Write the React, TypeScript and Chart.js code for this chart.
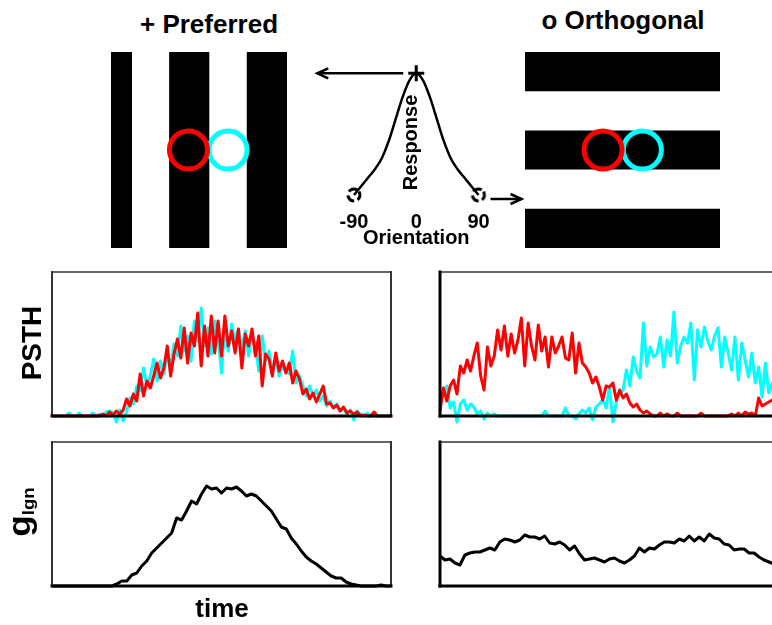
import React, { useEffect, useRef } from "react";
import { Chart, registerables } from "chart.js";

Chart.register(...registerables);

const FONT = "'Liberation Sans', Arial, Helvetica, sans-serif";
const RED = "#ff0000";
const CYAN = "#00ffff";
const INK = "#000000";
const THIN = "#333333";

// ---- stimulus gratings (extents in % of the stimulus patch) ----
const PATCH_MAX = 100;
const PREFERRED_STRIPES = [[0, 12], [33, 56], [77, 100]]; // vertical bars: x extents
const ORTHOGONAL_STRIPES = [[0, 20], [40, 60], [80, 100]]; // horizontal bars: y extents
// LGN receptive-field centres on each patch, [red, cyan]
const PREFERRED_RF_X = [44, 66.5];
const PREFERRED_RF_Y = [50, 50];
const ORTHOGONAL_RF_X = [40, 60.2];
const ORTHOGONAL_RF_Y = [50, 50];

// ---- orientation tuning curve ----
const ORIENTATION = [-90, -80, -70, -60, -50, -40, -30, -20, -10, 0, 10, 20, 30, 40, 50, 60, 70, 80, 90];
const RESPONSE = [0, 0.07, 0.14, 0.21, 0.3, 0.44, 0.62, 0.8, 0.94, 1, 0.94, 0.8, 0.62, 0.44, 0.3, 0.21, 0.14, 0.07, 0];
const ORIENTATION_TICKS = [-90, 0, 90];
const PREFERRED_ORI = [0];
const ORTHOGONAL_ORI = [-90, 90];

// ---- PSTHs (time bins 0..100) ----
const PSTH_MAX = 144;
const PSTH_PREF_RED = [
  0, 0, 0, 0, 0, 0, 0, 0, 0, 0,
  0, 0, 0, 0, 0, 2, 0, 4, 1, 5,
  2, 6, 17, 10, 22, 15, 42, 20, 35, 28,
  40, 53, 38, 48, 70, 40, 62, 77, 58, 88,
  53, 83, 70, 103, 50, 90, 60, 100, 63, 95,
  60, 100, 70, 85, 63, 87, 48, 82, 70, 87,
  60, 80, 30, 62, 57, 40, 63, 45, 55, 43,
  53, 33, 45, 37, 22, 27, 17, 23, 14, 22,
  30, 12, 13, 8, 11, 5, 9, 3, 5, 2,
  4, 0, 1, 0, 0, 4, 0, 0, 0, 0,
  0,
];
const PSTH_PREF_CYAN = [
  0, 0, 0, 0, 0, 3, 0, 0, 3, 0,
  0, 0, 3, 0, 2, 0, 4, 5, 3, -6,
  6, -5, 4, 18, 12, 30, 25, 48, 30, 40,
  57, 35, 55, 42, 62, 50, 72, 60, 90, 65,
  80, 55, 95, 75, 108, 70, 88, 62, 95, 78,
  43, 90, 65, 92, 75, 87, 68, 85, 60, 80,
  70, 45, 80, 55, 65, 45, 58, 40, 50, 45,
  42, 65, 33, 40, 30, 20, 30, 20, 26, 15,
  20, 10, 15, 8, 12, 5, 8, 2, 6, -4,
  5, 2, 0, 3, 0, 0, 0, 0, 0, 0,
  0,
];
const PSTH_ORTH_RED = [
  5, 28, 15, 30, 36, 22, 50, 43, 56, 45,
  60, 73, 40, 26, 69, 50, 60, 86, 66, 90,
  60, 82, 63, 76, 98, 50, 93, 70, 56, 91,
  65, 79, 49, 79, 63, 70, 79, 58, 56, 83,
  43, 73, 53, 49, 43, 33, 39, 29, 16, 30,
  29, 33, 16, 26, 18, 22, 13, 9, 12, 6,
  3, 5, 2, 0, 0, 3, 0, 2, 0, 0,
  3, 0, 0, 0, 0, 0, 0, 3, 0, 0,
  0, 0, 0, 0, 0, 0, 2, 0, 3, 0,
  4, 2, 3, 0, 18, 10, 12, 14, 16, 12,
  15,
];
const PSTH_ORTH_CYAN = [
  10, 25, 30, 8, 14, -6, 12, 16, 6, 12,
  9, 2, 5, -3, 3, 0, 2, 0, 0, 0,
  0, 0, 0, 0, 0, 0, 0, 0, 0, 0,
  0, 5, 0, 0, 0, 0, 0, 8, 0, 0,
  -3, 2, 6, 3, 8, -4, 9, 12, 16, 8,
  29, -6, 14, 22, 26, 46, 30, 59, 45, 38,
  93, 50, 69, 59, 62, 79, 49, 76, 60, 104,
  53, 70, 79, 73, 93, 36, 86, 69, 89, 75,
  66, 80, 88, 49, 79, 63, 46, 79, 36, 73,
  56, 39, 63, 33, 49, 19, 53, 23, 33, 28,
  30,
];

// ---- LGN conductance (time bins 0..68) ----
const G_MAX = 144;
const G_PREF = [
  0, 0, 0, 0, 0, 0, 0, 0, 0, 0,
  0, 0, 0, 2, 5, 5, 11, 13, 20, 25,
  33, 38, 43, 48, 53, 68, 66, 75, 85, 82,
  92, 100, 97, 98, 93, 98, 97, 99, 95, 90,
  92, 90, 85, 80, 75, 67, 59, 57, 48, 42,
  35, 29, 25, 22, 18, 14, 10, 8, 8, 4,
  2, 1, 0, 0, 0, 0, 1, 0, 0,
];
const G_ORTH = [
  30, 26, 27, 23, 21, 31, 33, 34, 34, 36,
  38, 36, 44, 47, 46, 44, 46, 51, 49, 49,
  47, 50, 43, 42, 44, 41, 36, 40, 32, 26,
  27, 28, 26, 24, 27, 28, 25, 23, 26, 30,
  38, 34, 38, 37, 41, 44, 44, 43, 47, 45,
  50, 45, 49, 45, 52, 48, 47, 42, 41, 36,
  37, 37, 33, 33, 29, 26, 24, 22, 20,
];

type Box = { left: number; top: number; width: number; height: number };
type Pad = { left: number; right: number; top: number; bottom: number };

function baseOptions(padding: Pad, xMin: number, xMax: number, yMin: number, yMax: number, extra: any = {}) {
  return {
    responsive: false,
    maintainAspectRatio: false,
    animation: false,
    events: [],
    layout: { padding, autoPadding: false },
    plugins: { legend: { display: false }, tooltip: { enabled: false }, ...extra },
    scales: {
      x: { type: "linear", min: xMin, max: xMax, display: false },
      y: { type: "linear", min: yMin, max: yMax, display: false },
    },
  };
}

// box around a trace panel: thin top/right, heavy axis lines
const framePlugin = {
  id: "frame",
  afterDatasetsDraw(chart: any, _args: any, opts: any) {
    const sides = opts && opts.sides;
    if (!sides) return;
    const { left, right, top, bottom } = chart.chartArea;
    const ctx = chart.ctx;
    ctx.save();
    ctx.lineCap = "square";
    const seg = (w: number, color: string, x1: number, y1: number, x2: number, y2: number) => {
      if (!w) return;
      ctx.lineWidth = w;
      ctx.strokeStyle = color;
      ctx.beginPath();
      ctx.moveTo(x1, y1);
      ctx.lineTo(x2, y2);
      ctx.stroke();
    };
    seg(sides.top, THIN, left, top, right, top);
    seg(sides.right, THIN, right, top, right, bottom);
    seg(sides.left, sides.left >= 3 ? INK : THIN, left, top, left, bottom);
    seg(sides.bottom, INK, left, bottom, right, bottom);
    ctx.restore();
  },
};

function drawArrow(ctx: CanvasRenderingContext2D, x1: number, y1: number, x2: number, y2: number) {
  const d = Math.sign(x2 - x1);
  ctx.beginPath();
  ctx.moveTo(x1, y1);
  ctx.lineTo(x2, y2);
  ctx.stroke();
  ctx.beginPath();
  ctx.moveTo(x2 - d * 11, y2 - 5);
  ctx.lineTo(x2, y2);
  ctx.lineTo(x2 - d * 11, y2 + 5);
  ctx.stroke();
}

// axis text, arrows to the gratings
const tuningDecor = {
  id: "tuningDecor",
  afterDatasetsDraw(chart: any) {
    const { ctx, chartArea, scales } = chart;
    const x = scales.x;
    const y = scales.y;
    const px0 = x.getPixelForValue(PREFERRED_ORI[0]);
    const peakY = y.getPixelForValue(1);
    const baseY = y.getPixelForValue(0);
    const p90 = x.getPixelForValue(ORTHOGONAL_ORI[1]);
    ctx.save();
    ctx.strokeStyle = INK;
    ctx.fillStyle = INK;
    ctx.lineWidth = 2.5;
    ctx.lineJoin = "miter";
    drawArrow(ctx, px0 - 13, peakY, px0 - 99, peakY);
    drawArrow(ctx, p90 + 12, baseY + 4, p90 + 43, baseY + 4);
    ctx.font = `bold 20px ${FONT}`;
    ctx.textAlign = "center";
    ctx.textBaseline = "alphabetic";
    ORIENTATION_TICKS.forEach((t) => ctx.fillText(String(t), x.getPixelForValue(t), chartArea.bottom + 33));
    ctx.fillText("Orientation", px0, chartArea.bottom + 49);
    ctx.translate(px0 + 1, chartArea.bottom - 52.5);
    ctx.rotate(-Math.PI / 2);
    ctx.fillText("Response", 0, 0);
    ctx.restore();
  },
};

function openMarker(): HTMLCanvasElement {
  const c = document.createElement("canvas");
  c.width = 18;
  c.height = 18;
  const g = c.getContext("2d")!;
  g.lineWidth = 3;
  g.strokeStyle = INK;
  g.setLineDash([9, 3.6]);
  g.beginPath();
  g.arc(9, 9, 6, -0.6, Math.PI * 2 - 0.6);
  g.stroke();
  return c;
}

function rfDatasets(xs: number[], ys: number[]) {
  return [RED, CYAN].map((color, i) => ({
    data: [{ x: xs[i], y: ys[i] }],
    showLine: false,
    pointRadius: 19,
    pointBorderWidth: 5,
    pointBorderColor: color,
    pointBackgroundColor: "rgba(0,0,0,0)",
    clip: false,
  }));
}

function gratingConfig(stripes: number[][], vertical: boolean, rfX: number[], rfY: number[], pad: Pad) {
  const stripeSets = stripes.map(([a, b]) =>
    vertical
      ? { data: [{ x: a, y: PATCH_MAX }, { x: b, y: PATCH_MAX }], fill: { value: 0 } }
      : { data: [{ x: 0, y: b }, { x: PATCH_MAX, y: b }], fill: { value: a } }
  ).map((s) => ({
    ...s,
    borderWidth: 0,
    borderColor: "rgba(0,0,0,0)",
    backgroundColor: INK,
    pointRadius: 0,
    tension: 0,
  }));
  return {
    type: "line",
    data: { datasets: [...rfDatasets(rfX, rfY), ...stripeSets] },
    options: baseOptions(pad, 0, PATCH_MAX, 0, PATCH_MAX),
  };
}

function tuningConfig(pad: Pad) {
  return {
    type: "line",
    data: {
      datasets: [
        {
          data: PREFERRED_ORI.map((o) => ({ x: o, y: RESPONSE[ORIENTATION.indexOf(o)] })),
          showLine: false,
          pointStyle: "cross",
          pointRadius: 8,
          pointBorderWidth: 3,
          pointBorderColor: INK,
          clip: false,
        },
        {
          data: ORTHOGONAL_ORI.map((o) => ({ x: o, y: RESPONSE[ORIENTATION.indexOf(o)] })),
          showLine: false,
          pointStyle: openMarker(),
          pointRadius: 7,
          clip: false,
        },
        {
          data: ORIENTATION.map((o, i) => ({ x: o, y: RESPONSE[i] })),
          borderColor: INK,
          borderWidth: 2.5,
          pointRadius: 0,
          cubicInterpolationMode: "monotone",
          fill: false,
          clip: false,
        },
      ],
    },
    options: baseOptions(pad, -90, 90, 0, 1),
    plugins: [tuningDecor],
  };
}

function traceConfig(series: { data: number[]; color: string; width: number }[], yMax: number, sides: any, pad: Pad) {
  const xMax = series[0].data.length - 1;
  return {
    type: "line",
    data: {
      datasets: series.map((s) => ({
        data: s.data.map((v, i) => ({ x: i, y: v })),
        borderColor: s.color,
        borderWidth: s.width,
        borderJoinStyle: "round",
        pointRadius: 0,
        tension: 0,
        fill: false,
        clip: false,
      })),
    },
    options: baseOptions(pad, 0, xMax, 0, yMax, { frame: { sides } }),
    plugins: [framePlugin],
  };
}

function ChartPanel({ box, make }: { box: Box; make: () => any }) {
  const ref = useRef<HTMLCanvasElement>(null);
  useEffect(() => {
    const chart = new Chart(ref.current as HTMLCanvasElement, make());
    return () => chart.destroy();
  }, []);
  return (
    <canvas
      ref={ref}
      width={box.width}
      height={box.height}
      style={{ position: "absolute", left: box.left, top: box.top, width: box.width, height: box.height }}
    />
  );
}

const PANEL_PAD: Pad = { left: 12, right: 9, top: 10, bottom: 16 };
const LEFT_FRAME = { top: 1.5, right: 2, left: 2, bottom: 3 };
const RIGHT_FRAME = { top: 1.5, right: 0, left: 3, bottom: 3 };

function Title({ text, cx, top }: { text: string; cx: number; top: number }) {
  return (
    <div
      style={{
        position: "absolute",
        left: cx - 150,
        width: 300,
        top,
        textAlign: "center",
        font: `bold 26px/26px ${FONT}`,
        whiteSpace: "nowrap",
      }}
    >
      {text}
    </div>
  );
}

function Vertical({ cx, cy, size, stretch = 1, children }: any) {
  return (
    <div
      style={{
        position: "absolute",
        left: cx,
        top: cy,
        transform: `translate(-50%, -50%) rotate(-90deg) scaleX(${stretch})`,
        font: `bold ${size}px/${size}px ${FONT}`,
        whiteSpace: "nowrap",
      }}
    >
      {children}
    </div>
  );
}

export default function App() {
  return (
    <div
      style={{
        position: "fixed",
        left: 0,
        top: 0,
        width: 772,
        height: 625,
        overflow: "hidden",
        background: "#ffffff",
        color: INK,
      }}
    >
      <Title text="+ Preferred" cx={209} top={11} />
      <Title text="o Orthogonal" cx={623} top={7} />

      <ChartPanel
        box={{ left: 100, top: 40, width: 200, height: 220 }}
        make={() => gratingConfig(PREFERRED_STRIPES, true, PREFERRED_RF_X, PREFERRED_RF_Y, { left: 11, right: 13, top: 12, bottom: 12 })}
      />
      <ChartPanel
        box={{ left: 512, top: 40, width: 222, height: 220 }}
        make={() => gratingConfig(ORTHOGONAL_STRIPES, false, ORTHOGONAL_RF_X, ORTHOGONAL_RF_Y, { left: 13, right: 14, top: 12, bottom: 12 })}
      />
      <ChartPanel
        box={{ left: 300, top: 45, width: 240, height: 210 }}
        make={() => tuningConfig({ left: 54, right: 61.5, top: 28.3, bottom: 60 })}
      />

      <ChartPanel
        box={{ left: 40, top: 262, width: 360, height: 170 }}
        make={() =>
          traceConfig(
            [
              { data: PSTH_PREF_RED, color: RED, width: 3 },
              { data: PSTH_PREF_CYAN, color: CYAN, width: 3 },
            ],
            PSTH_MAX,
            LEFT_FRAME,
            PANEL_PAD
          )
        }
      />
      <ChartPanel
        box={{ left: 428, top: 262, width: 360, height: 170 }}
        make={() =>
          traceConfig(
            [
              { data: PSTH_ORTH_RED, color: RED, width: 3 },
              { data: PSTH_ORTH_CYAN, color: CYAN, width: 3 },
            ],
            PSTH_MAX,
            RIGHT_FRAME,
            PANEL_PAD
          )
        }
      />
      <ChartPanel
        box={{ left: 40, top: 432, width: 360, height: 170 }}
        make={() => traceConfig([{ data: G_PREF, color: INK, width: 3 }], G_MAX, LEFT_FRAME, PANEL_PAD)}
      />
      <ChartPanel
        box={{ left: 428, top: 432, width: 360, height: 170 }}
        make={() => traceConfig([{ data: G_ORTH, color: INK, width: 3 }], G_MAX, RIGHT_FRAME, PANEL_PAD)}
      />

      <Vertical cx={32.4} cy={342.5} size={28}>
        PSTH
      </Vertical>
      <Vertical cx={18.5} cy={511.5} size={32} stretch={1.1}>
        g<span style={{ fontSize: 17, lineHeight: 0, position: "relative", top: 4 }}>lgn</span>
      </Vertical>
      <div
        style={{
          position: "absolute",
          left: 122,
          width: 200,
          top: 595,
          textAlign: "center",
          font: `bold 26px/26px ${FONT}`,
        }}
      >
        time
      </div>
    </div>
  );
}
